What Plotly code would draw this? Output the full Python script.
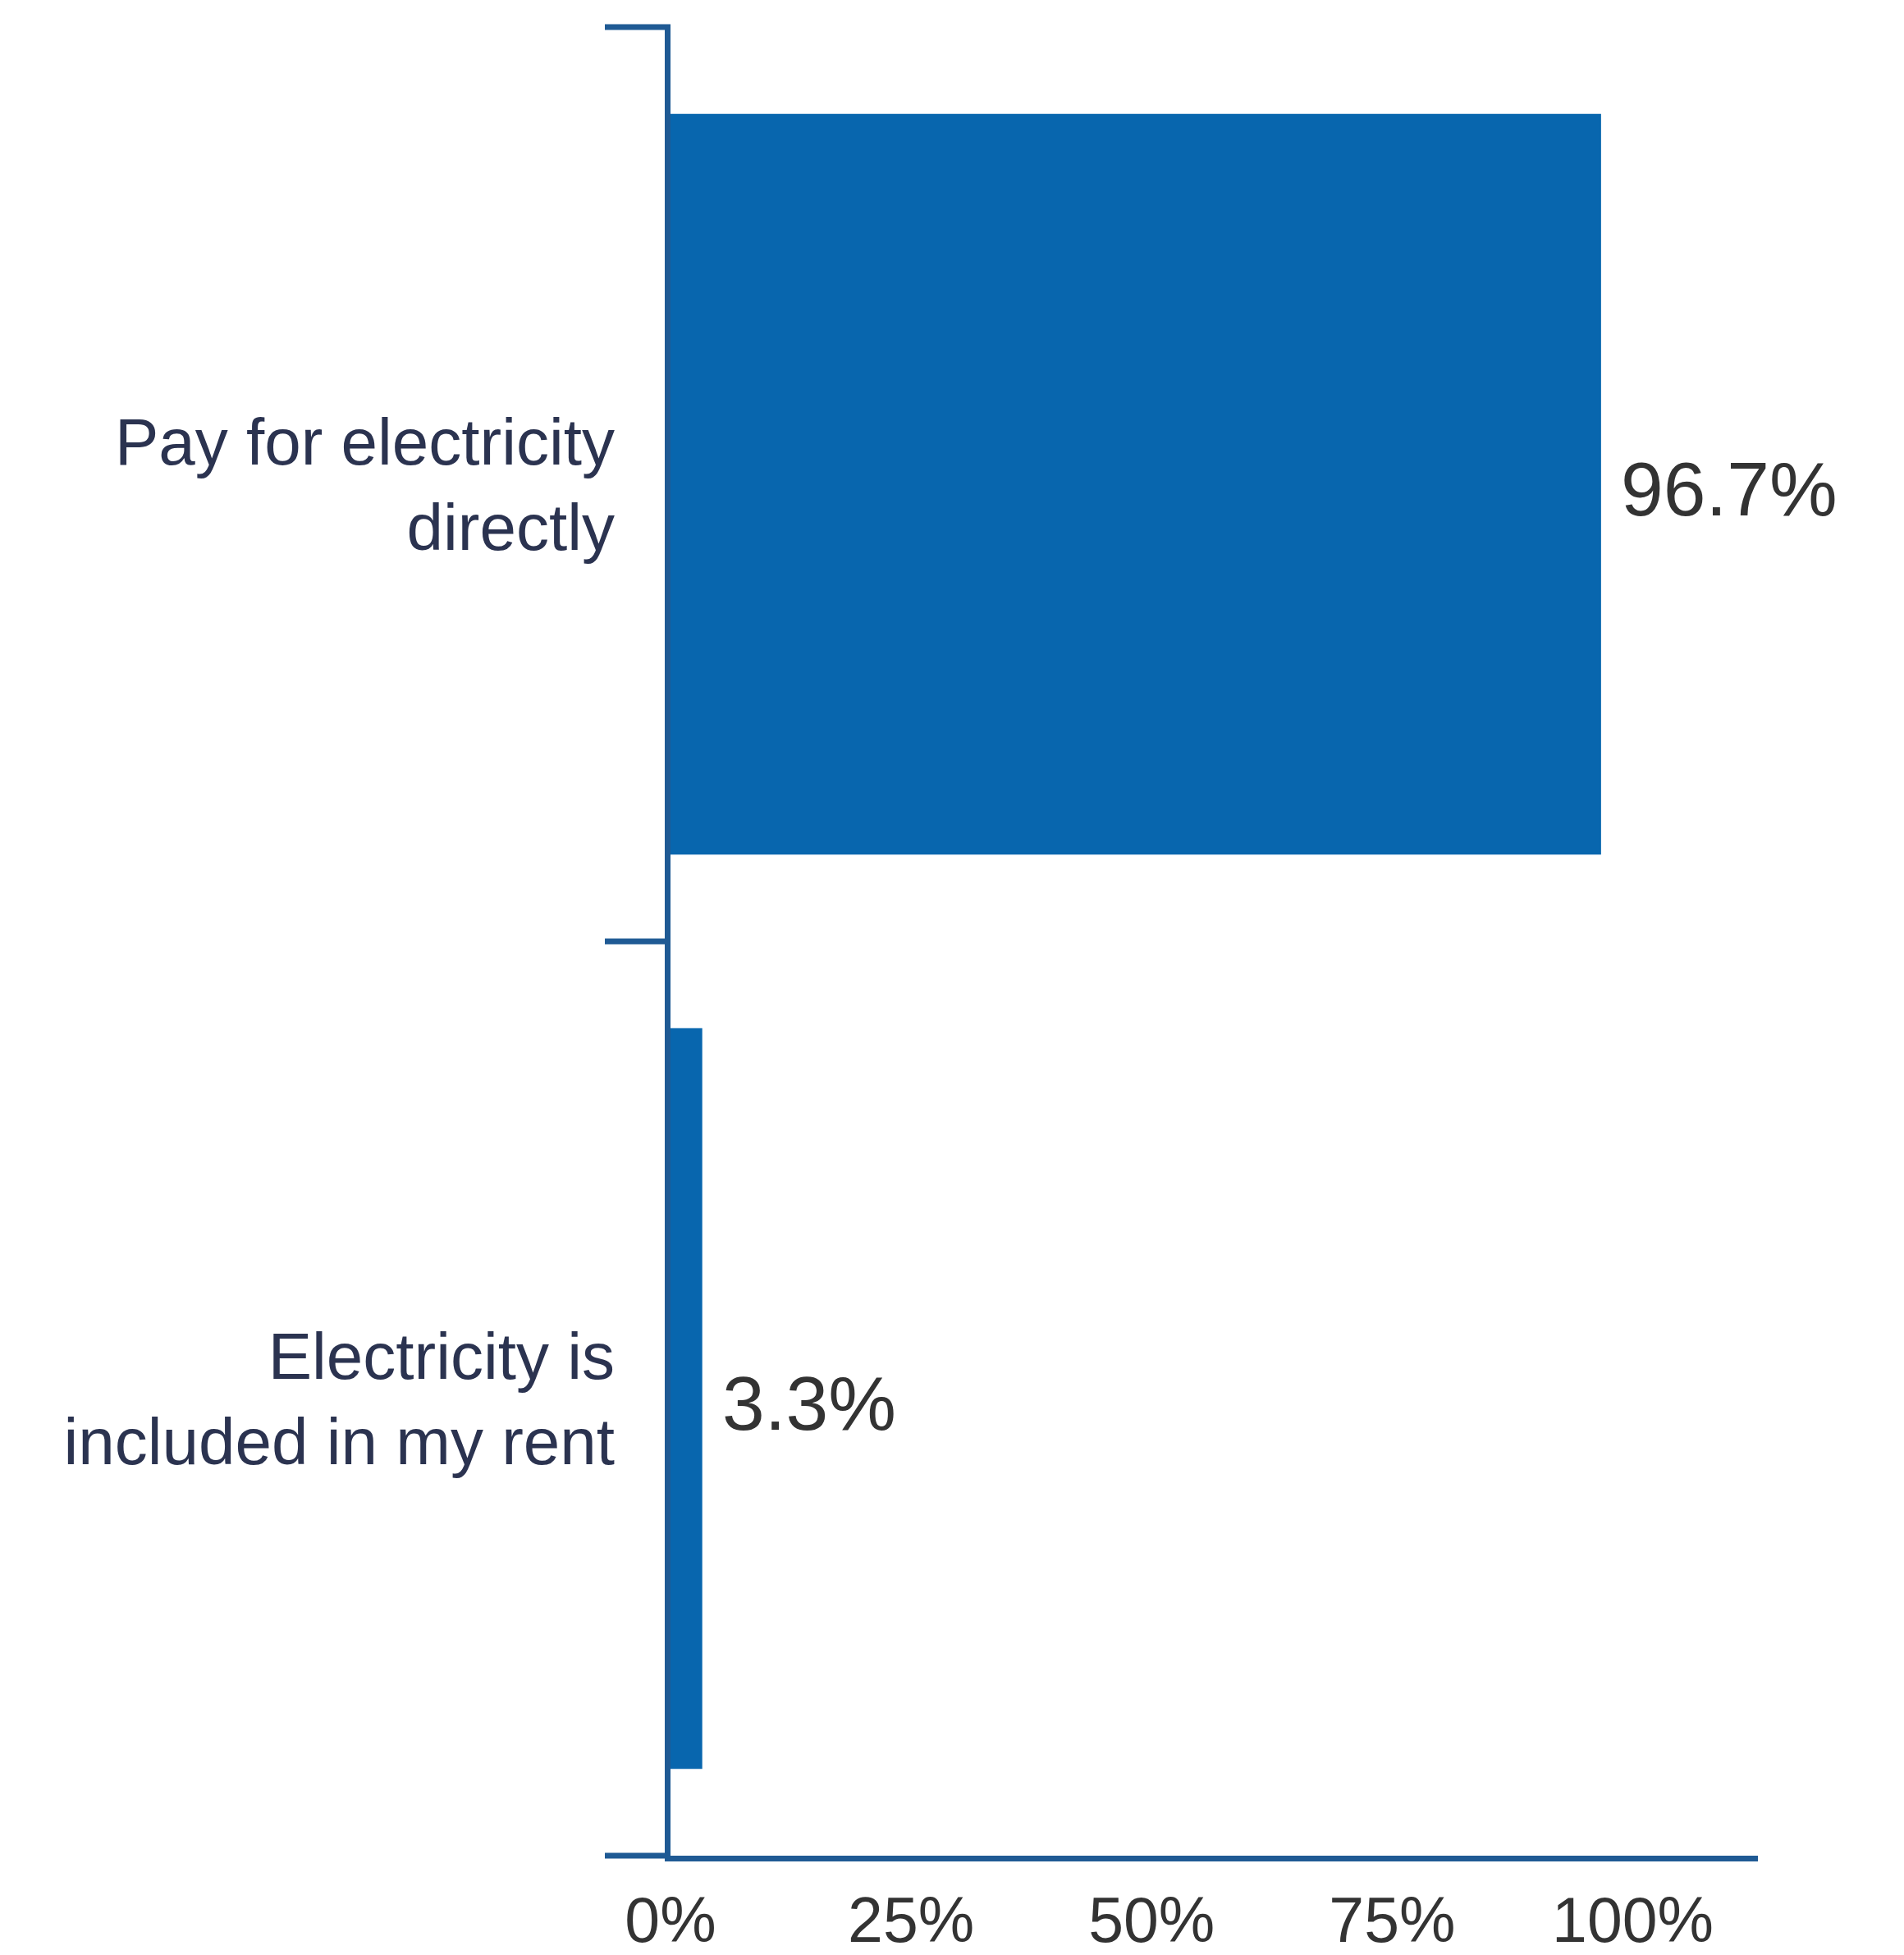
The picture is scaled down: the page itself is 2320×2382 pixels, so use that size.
import plotly.graph_objects as go

categories = ["Pay for electricity<br>directly", "Electricity is<br>included in my rent"]
values = [96.7, 3.3]
value_labels = ["96.7%", "3.3%"]
x_ticks = [0, 25, 50, 75, 100]
x_tick_labels = ["0%", "25%", "50%", "75%", "100%"]

BAR = "#0866ae"
AXIS = "#1f5a94"
FONT = "Liberation Sans, Arial, sans-serif"

W, H = 2320, 2382
ML, MR, MT, MB = 809, 186, 25, 129
PLOT_W = W - ML - MR
TICK_LEN = 80

fig = go.Figure()
fig.add_trace(go.Bar(
    x=values, y=categories, orientation="h",
    marker=dict(color=BAR, line=dict(width=0)),
    hoverinfo="skip",
))

for v, lab, cat in zip(values, value_labels, categories):
    fig.add_annotation(
        x=v, y=cat, text=lab, showarrow=False,
        xanchor="left", yanchor="middle", xshift=22, yshift=-6,
        font=dict(family=FONT, size=93, color="#333333"),
    )

# category-boundary tick marks on the y axis (top, between, bottom)
for yb in [0, 0.5, 1]:
    fig.add_shape(
        type="line", xref="paper", yref="paper",
        x0=-TICK_LEN / PLOT_W, x1=0, y0=yb, y1=yb,
        line=dict(color=AXIS, width=7),
    )

fig.update_layout(
    width=W, height=H,
    margin=dict(l=ML, r=MR, t=MT, b=MB, autoexpand=False),
    paper_bgcolor="white", plot_bgcolor="white",
    bargap=0.19,
    showlegend=False,
    font=dict(family=FONT),
)

fig.update_xaxes(
    range=[0, 113], automargin=False,
    tickmode="array", tickvals=x_ticks, ticktext=x_tick_labels,
    showgrid=False, zeroline=False,
    showline=True, linecolor=AXIS, linewidth=7,
    ticks="", ticklabelstandoff=6,
    tickfont=dict(family=FONT, size=77, color="#333333"),
)

fig.update_yaxes(
    type="category", automargin=False,
    categoryorder="array", categoryarray=categories,
    autorange="reversed",
    showgrid=False, zeroline=False,
    showline=True, linecolor=AXIS, linewidth=7,
    ticks="", ticklabelstandoff=45,
    tickfont=dict(family=FONT, size=80, color="#2b3350"),
)

fig.write_html("out.html")
